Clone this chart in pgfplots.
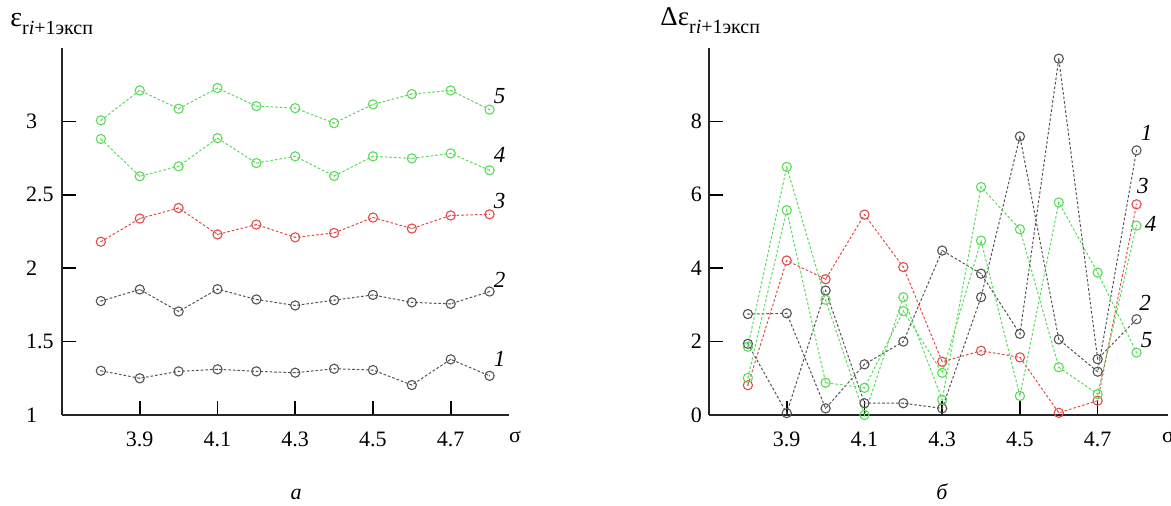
\documentclass[border=0pt]{standalone}
\usepackage{pgfplots}
\pgfplotsset{compat=1.18}
\usepackage{fontspec}
\setmainfont{Liberation Serif}
\definecolor{cgreen}{rgb}{0.35,0.86,0.35}
\definecolor{cred}{rgb}{0.88,0.30,0.30}
\definecolor{cgray}{rgb}{0.33,0.33,0.33}
\pgfdeclareplotmark{odot}{%
  \pgfpathcircle{\pgfpointorigin}{\pgfplotmarksize}\pgfusepathqstroke
  \pgfpathcircle{\pgfpointorigin}{0.35pt}\pgfusepathqfill}
\tikzset{lab/.style={font=\itshape\fontsize{11.5}{11.5}\selectfont}}
\pgfplotsset{
  ser/.style={color=#1, dash pattern=on 1.3pt off 1pt, line width=0.5pt, mark=odot, mark size=2.3pt,
    mark options={solid, line width=0.55pt, fill=#1}},
  base/.style={scale only axis, axis lines=left, axis line style={-, line width=0.6pt, black!85},
    tick align=inside, major tick length=7pt, tick style={black, line width=0.8pt},
    xmin=3.7, xtick={3.9,4.1,4.3,4.5,4.7}, xticklabels={3.9,4.1,4.3,4.5,4.7},
    /pgf/number format/assume math mode=true,
    ticklabel style={font=\fontsize{11}{11}\selectfont},
    xticklabel style={yshift=-5pt},
    height=183.5pt, clip=false}
}
\begin{document}
\begin{tikzpicture}
\useasboundingbox (0,0) rectangle (585.5pt,253pt);
% ---------- panel a ----------
\begin{axis}[base, at={(31pt,45.5pt)}, anchor=south west, width=223.5pt,
  xmax=4.85, ymin=1, ymax=3.5, ytick={1,1.5,2,2.5,3}, yticklabels={1,1.5,2,2.5,3},
  yticklabel style={anchor=west, xshift=-21.5pt}]
\addplot[ser=cgray] coordinates {(3.8,1.301)(3.9,1.250)(4.0,1.297)(4.1,1.311)(4.2,1.297)(4.3,1.288)(4.4,1.315)(4.5,1.306)(4.6,1.204)(4.7,1.379)(4.8,1.267)};
\addplot[ser=cgray] coordinates {(3.8,1.776)(3.9,1.855)(4.0,1.705)(4.1,1.857)(4.2,1.787)(4.3,1.746)(4.4,1.782)(4.5,1.818)(4.6,1.767)(4.7,1.757)(4.8,1.841)};
\addplot[ser=cred] coordinates {(3.8,2.18)(3.9,2.338)(4.0,2.41)(4.1,2.23)(4.2,2.297)(4.3,2.21)(4.4,2.24)(4.5,2.345)(4.6,2.27)(4.7,2.359)(4.8,2.367)};
\addplot[ser=cgreen] coordinates {(3.8,2.880)(3.9,2.626)(4.0,2.694)(4.1,2.886)(4.2,2.716)(4.3,2.762)(4.4,2.628)(4.5,2.762)(4.6,2.748)(4.7,2.782)(4.8,2.667)};
\addplot[ser=cgreen] coordinates {(3.8,3.007)(3.9,3.211)(4.0,3.086)(4.1,3.227)(4.2,3.104)(4.3,3.090)(4.4,2.988)(4.5,3.116)(4.6,3.186)(4.7,3.211)(4.8,3.080)};
\node[lab] at (axis cs:4.826,3.17) {5};
\node[lab] at (axis cs:4.826,2.77) {4};
\node[lab] at (axis cs:4.826,2.46) {3};
\node[lab] at (axis cs:4.826,1.92) {2};
\node[lab] at (axis cs:4.826,1.38) {1};
\end{axis}
% ---------- panel b ----------
\begin{axis}[base, at={(354.5pt,45.5pt)}, anchor=south west, width=229.5pt,
  xmax=4.881, ymin=0, ymax=10, ytick={0,2,4,6,8}, yticklabels={0,2,4,6,8}]
\addplot[ser=cgray] coordinates {(3.8,1.94)(3.9,0.05)(4.0,3.39)(4.1,0.32)(4.2,0.32)(4.3,0.18)(4.4,3.21)(4.5,7.59)(4.6,2.06)(4.7,1.18)(4.8,7.21)};
\addplot[ser=cgray] coordinates {(3.8,2.75)(3.9,2.77)(4.0,0.18)(4.1,1.38)(4.2,2.00)(4.3,4.48)(4.4,3.85)(4.5,2.21)(4.6,9.71)(4.7,1.52)(4.8,2.61)};
\addplot[ser=cred] coordinates {(3.8,0.81)(3.9,4.21)(4.0,3.70)(4.1,5.46)(4.2,4.03)(4.3,1.45)(4.4,1.75)(4.5,1.57)(4.6,0.06)(4.7,0.39)(4.8,5.74)};
\addplot[ser=cgreen] coordinates {(3.8,1.86)(3.9,6.76)(4.0,3.14)(4.1,0.00)(4.2,3.21)(4.3,0.41)(4.4,6.21)(4.5,5.06)(4.6,1.30)(4.7,0.57)(4.8,5.16)};
\addplot[ser=cgreen] coordinates {(3.8,1.01)(3.9,5.58)(4.0,0.88)(4.1,0.74)(4.2,2.83)(4.3,1.15)(4.4,4.75)(4.5,0.52)(4.6,5.79)(4.7,3.88)(4.8,1.70)};
\node[lab] at (axis cs:4.826,7.68) {1};
\node[lab] at (axis cs:4.816,6.23) {3};
\node[lab] at (axis cs:4.836,5.21) {4};
\node[lab] at (axis cs:4.822,3.05) {2};
\node[lab] at (axis cs:4.826,2.05) {5};
\end{axis}
% ---------- texts ----------
\node[anchor=base west, inner sep=0] at (5pt,239.7pt) {\fontsize{14}{14}\selectfont ε\raisebox{-4pt}{\fontsize{10}{10}\selectfont r\textit{i}+1эксп}};
\node[anchor=base west, inner sep=0] at (330pt,240.2pt) {\fontsize{13.5}{13.5}\selectfont Δε\raisebox{-4pt}{\fontsize{10}{10}\selectfont r\textit{i}+1эксп}};
\node[font=\fontsize{11}{11}\selectfont] at (257.5pt,34.5pt) {σ};
\node[font=\fontsize{11}{11}\selectfont] at (584pt,34.5pt) {σ};
\node[font=\itshape\fontsize{11}{11}\selectfont, anchor=base] at (148pt,3pt) {а};
\node[font=\itshape\fontsize{11}{11}\selectfont, anchor=base] at (471pt,3pt) {б};
\end{tikzpicture}
\end{document}
